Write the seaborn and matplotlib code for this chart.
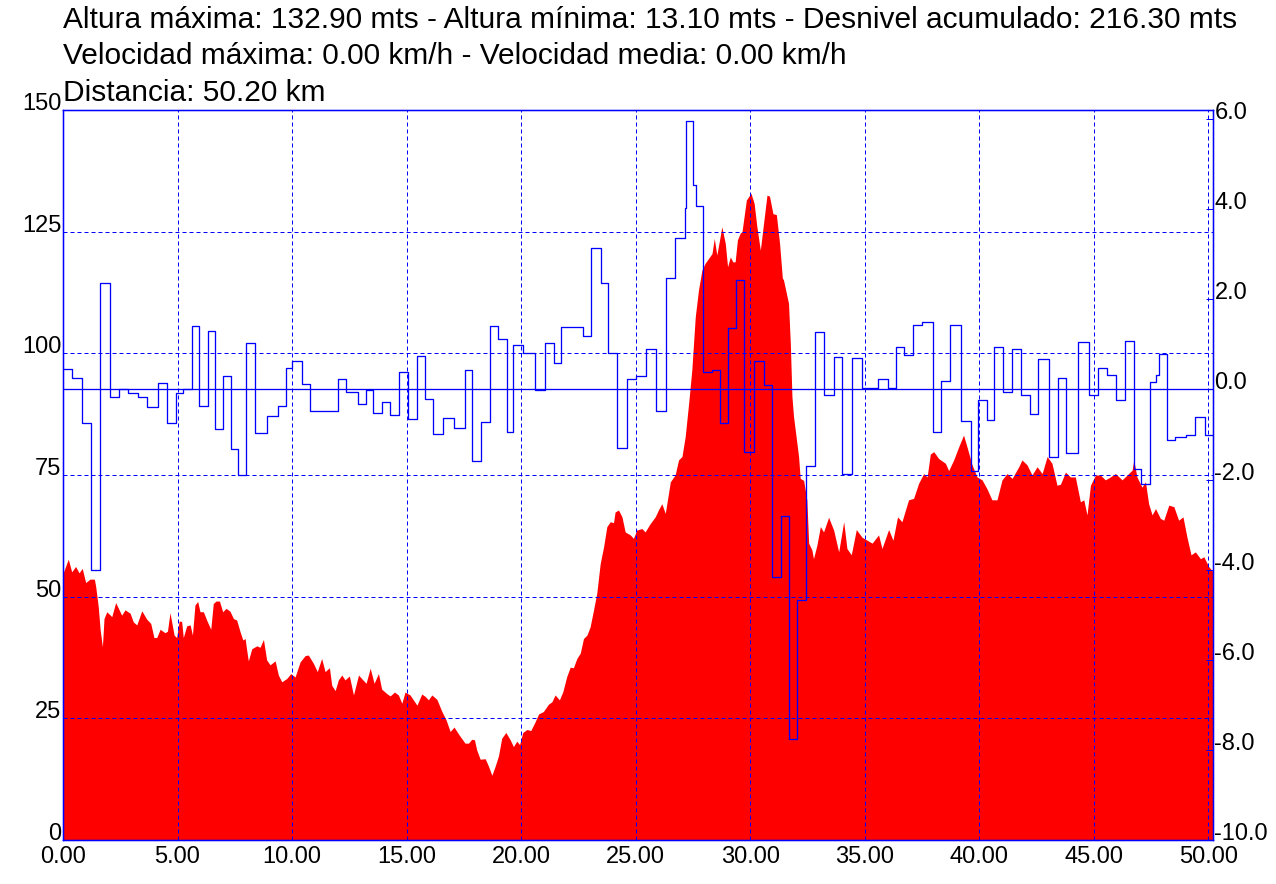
import numpy as np
import pandas as pd
import matplotlib
matplotlib.use("Agg")
import matplotlib.pyplot as plt
import seaborn as sns

# --- elevation profile (km, metres) ---
dist_km = [
    0.00, 0.23, 0.38, 0.55, 0.70, 0.84, 0.99, 1.18, 1.37, 1.43, 1.54, 1.62, 1.72, 1.79, 1.91,
    2.13, 2.30, 2.45, 2.56, 2.71, 2.93, 3.07, 3.22, 3.44, 3.65, 3.83, 3.97, 4.09, 4.24, 4.45,
    4.56, 4.67, 4.85, 4.96, 5.07, 5.18, 5.25, 5.40, 5.55, 5.65, 5.76, 5.88, 5.98, 6.13, 6.27,
    6.45, 6.56, 6.68, 6.83, 6.97, 7.12, 7.29, 7.44, 7.58, 7.73, 7.85, 7.95, 8.02, 8.09, 8.24,
    8.46, 8.60, 8.75, 8.89, 9.04, 9.26, 9.40, 9.55, 9.77, 9.94, 10.13, 10.35, 10.57, 10.71, 10.93,
    11.10, 11.29, 11.44, 11.63, 11.73, 11.88, 12.02, 12.17, 12.31, 12.50, 12.68, 12.90, 13.09, 13.23, 13.41,
    13.58, 13.77, 13.91, 14.13, 14.28, 14.47, 14.64, 14.79, 14.93, 15.15, 15.45, 15.66, 15.81, 15.95, 16.10,
    16.32, 16.54, 16.72, 16.90, 17.07, 17.29, 17.55, 17.70, 17.84, 17.96, 18.06, 18.21, 18.43, 18.57, 18.72,
    18.86, 19.01, 19.15, 19.33, 19.52, 19.66, 19.81, 19.93, 20.07, 20.25, 20.42, 20.61, 20.76, 20.97, 21.19,
    21.34, 21.48, 21.67, 21.82, 21.99, 22.14, 22.28, 22.43, 22.58, 22.72, 22.87, 23.01, 23.16, 23.30, 23.45,
    23.60, 23.74, 23.89, 24.03, 24.10, 24.25, 24.40, 24.54, 24.76, 24.90, 25.05, 25.27, 25.41, 25.63, 25.85,
    26.00, 26.14, 26.29, 26.43, 26.51, 26.72, 26.87, 27.02, 27.16, 27.31, 27.45, 27.60, 27.74, 27.89, 28.03,
    28.18, 28.33, 28.43, 28.54, 28.66, 28.76, 28.91, 29.01, 29.13, 29.24, 29.34, 29.44, 29.56, 29.64, 29.83,
    30.03, 30.17, 30.29, 30.44, 30.58, 30.73, 30.84, 30.99, 31.14, 31.28, 31.40, 31.45, 31.67, 31.75, 31.82,
    31.89, 32.11, 32.18, 32.33, 32.47, 32.55, 32.69, 32.76, 32.91, 33.06, 33.20, 33.42, 33.64, 33.86, 34.08,
    34.22, 34.41, 34.63, 34.88, 35.10, 35.32, 35.60, 35.75, 36.04, 36.23, 36.43, 36.62, 36.91, 37.13, 37.35,
    37.57, 37.72, 37.86, 38.01, 38.22, 38.52, 38.66, 38.88, 39.10, 39.31, 39.46, 39.68, 39.90, 40.12, 40.33,
    40.55, 40.77, 40.99, 41.21, 41.43, 41.72, 41.86, 42.08, 42.30, 42.52, 42.74, 42.96, 43.17, 43.39, 43.54,
    43.76, 43.97, 44.19, 44.41, 44.56, 44.70, 44.85, 45.07, 45.28, 45.50, 45.72, 45.94, 46.23, 46.45, 46.67,
    46.74, 46.88, 47.10, 47.25, 47.39, 47.54, 47.69, 47.90, 48.05, 48.27, 48.49, 48.70, 48.89, 49.06, 49.24,
    49.43, 49.65, 49.80, 50.01, 50.20,
]
altura = [
    54.8, 57.7, 55.1, 56.2, 54.9, 55.8, 52.9, 53.6, 53.6, 52.0, 47.9, 43.3, 39.7, 45.5, 46.9,
    45.9, 48.8, 47.3, 46.2, 47.3, 46.6, 44.8, 44.2, 47.1, 45.4, 44.5, 41.6, 41.6, 43.3, 42.6,
    42.9, 46.7, 42.1, 41.6, 45.0, 44.9, 41.6, 44.0, 44.2, 42.1, 48.3, 49.0, 46.9, 46.9, 45.2,
    43.3, 48.6, 49.1, 49.1, 46.9, 47.6, 47.0, 45.5, 45.2, 42.8, 41.1, 41.4, 39.0, 36.8, 39.3,
    39.9, 39.6, 41.2, 37.0, 36.0, 36.8, 33.9, 32.5, 33.2, 34.2, 33.5, 36.6, 37.9, 38.0, 36.3,
    34.6, 37.3, 34.6, 35.4, 31.8, 30.7, 32.9, 33.9, 32.9, 33.7, 29.8, 33.9, 32.9, 32.2, 35.3,
    32.2, 34.2, 31.0, 30.1, 29.6, 30.4, 29.8, 28.1, 30.4, 29.8, 27.7, 30.0, 29.5, 28.8, 29.8,
    28.9, 26.4, 24.7, 22.3, 23.2, 21.6, 19.9, 19.9, 20.7, 20.6, 18.5, 16.6, 16.7, 15.2, 13.3,
    15.1, 17.3, 20.9, 22.1, 20.6, 19.2, 20.3, 19.6, 22.1, 22.7, 22.5, 24.3, 25.9, 26.4, 27.9,
    28.4, 29.8, 28.8, 30.5, 33.6, 35.5, 35.4, 37.3, 38.4, 41.4, 42.1, 43.8, 47.3, 50.7, 56.8,
    60.3, 64.4, 65.4, 65.2, 67.4, 67.8, 66.4, 63.3, 62.7, 62.0, 63.7, 64.0, 63.3, 65.0, 66.4,
    67.9, 69.1, 67.1, 71.2, 73.6, 75.0, 78.1, 78.8, 82.9, 89.7, 96.6, 107.5, 113.0, 117.1, 118.5,
    119.5, 120.5, 123.6, 120.2, 123.3, 126.0, 122.6, 117.8, 119.8, 118.8, 118.8, 123.3, 124.7, 125.0, 131.5,
    132.9, 130.8, 126.0, 121.2, 126.7, 132.5, 132.3, 128.7, 128.5, 122.6, 115.5, 115.1, 110.3, 102.0, 91.1,
    87.0, 78.8, 74.3, 73.9, 69.9, 61.0, 59.6, 57.8, 60.6, 64.4, 63.3, 66.3, 63.7, 59.2, 65.4,
    59.9, 58.6, 63.8, 62.2, 61.6, 61.0, 62.7, 59.9, 63.8, 61.6, 66.4, 65.4, 69.9, 70.2, 73.3,
    75.3, 74.6, 79.3, 79.8, 78.4, 77.4, 75.9, 78.1, 80.8, 83.2, 80.8, 77.1, 74.6, 74.0, 72.2,
    69.9, 69.9, 74.0, 75.3, 74.3, 76.7, 78.1, 77.1, 75.0, 76.7, 75.3, 78.8, 77.4, 72.9, 73.1,
    75.6, 74.6, 74.6, 69.5, 69.9, 66.8, 72.9, 75.0, 75.0, 74.0, 74.6, 75.3, 74.0, 75.0, 76.0,
    78.1, 74.6, 72.5, 73.6, 69.1, 66.8, 68.1, 66.1, 65.7, 68.8, 68.5, 65.7, 66.4, 62.3, 58.6,
    59.2, 57.8, 58.2, 56.2, 55.1,
]

# --- slope (%) as steps: start km of each step and its value ---
pend_km = [
    0.00, 0.41, 0.82, 1.21, 1.62, 2.05, 2.46, 2.83, 3.26, 3.68, 4.14, 4.55, 4.92, 5.24, 5.62,
    5.95, 6.34, 6.64, 7.00, 7.32, 7.66, 7.99, 8.40, 8.90, 9.40, 9.72, 10.00, 10.42, 10.79, 12.02,
    12.36, 12.88, 13.23, 13.55, 13.94, 14.28, 14.67, 15.08, 15.47, 15.81, 16.17, 16.58, 17.07, 17.55, 17.87,
    18.24, 18.65, 19.01, 19.38, 19.66, 20.06, 20.61, 21.02, 21.45, 21.75, 22.71, 23.04, 23.48, 23.81, 24.18,
    24.64, 25.02, 25.45, 25.88, 26.32, 26.72, 27.13, 27.21, 27.52, 27.62, 27.93, 28.33, 28.66, 29.05, 29.38,
    29.74, 30.17, 30.61, 30.97, 31.34, 31.67, 32.04, 32.43, 32.81, 33.20, 33.64, 34.00, 34.44, 34.88, 35.56,
    36.00, 36.36, 36.69, 37.10, 37.51, 37.96, 38.34, 38.73, 39.20, 39.64, 39.96, 40.34, 40.66, 41.03, 41.43,
    41.83, 42.20, 42.55, 43.03, 43.42, 43.79, 44.29, 44.77, 45.17, 45.58, 45.97, 46.35, 46.74, 47.06, 47.44,
    47.69, 47.86, 48.20, 48.56, 49.00, 49.43, 49.87,
]
pendiente = [
    0.46, 0.26, -0.74, -4.01, 2.37, -0.16, 0.01, -0.08, -0.17, -0.39, 0.15, -0.74, -0.07, 0.01, 1.41,
    -0.36, 1.30, -0.87, 0.30, -1.32, -1.90, 1.04, -0.96, -0.60, -0.36, 0.48, 0.64, 0.13, -0.47, 0.22,
    -0.06, -0.33, -0.02, -0.52, -0.28, -0.56, 0.39, -0.65, 0.74, -0.21, -1.00, -0.63, -0.85, 0.44, -1.60,
    -0.73, 1.41, 1.11, -0.94, 0.99, 0.81, -0.02, 1.04, 0.59, 1.38, 1.18, 3.13, 2.37, 0.81, -1.30,
    0.22, 0.30, 0.89, -0.47, 2.48, 3.35, 4.02, 5.96, 4.53, 4.07, 0.38, 0.42, -0.74, 1.37, 2.42,
    -1.39, 0.63, 0.10, -4.17, -2.80, -7.76, -4.67, -1.71, 1.27, -0.12, 0.72, -1.87, 0.70, 0.04, 0.24,
    0.02, 0.94, 0.76, 1.42, 1.50, -0.95, 0.18, 1.42, -0.71, -1.82, -0.24, -0.67, 0.94, -0.06, 0.90,
    -0.13, -0.54, 0.68, -1.50, 0.26, -1.41, 1.05, -0.13, 0.48, 0.33, -0.24, 1.07, -1.76, -2.11, 0.16,
    0.31, 0.79, -1.13, -1.06, -1.02, -0.61, -1.02,
]
dist_total = 50.20

titulo = [
    "Altura máxima: 132.90 mts - Altura mínima: 13.10 mts - Desnivel acumulado: 216.30 mts",
    "Velocidad máxima: 0.00 km/h - Velocidad media: 0.00 km/h",
    "Distancia: 50.20 km",
]
x_ticks = [0, 5, 10, 15, 20, 25, 30, 35, 40, 45, 50]
alt_ticks = [0, 25, 50, 75, 100, 125, 150]
pend_ticks = [-10, -8, -6, -4, -2, 0, 2, 4, 6]

# --- style ---
sns.set_style("white")
plt.rcParams['font.family'] = ['Liberation Sans', 'DejaVu Sans']
plt.rcParams['text.color'] = "black"
plt.rcParams['xtick.labelcolor'] = "black"
plt.rcParams['ytick.labelcolor'] = "black"
rojo = "#FF0000"
azul = "#0000FF"
px = 72 / 100  # one pixel in points at dpi 100

fig = plt.figure(figsize=(12.76, 8.84), dpi=100)
ax = fig.add_axes([63 / 1276, 44 / 884, 1150 / 1276, 730 / 884])

# elevation area
ax.fill_between(dist_km, altura, 0, color=rojo, linewidth=0, zorder=1)
ax.set_xlim(0, dist_total)
ax.set_ylim(0, 150)
ax.set_xticks(x_ticks)
ax.set_xticklabels([f"{v:.2f}" for v in x_ticks], fontsize=17, color="black")
ax.set_yticks(alt_ticks)
ax.set_yticklabels([str(v) for v in alt_ticks], fontsize=17, color="black")
for lab in ax.get_yticklabels():
    lab.set_va("baseline")
ax.tick_params(axis="both", length=0, pad=1)
ax.tick_params(axis="x", pad=4)
ax.set_axisbelow(False)
ax.grid(True, color=azul, linewidth=px, linestyle=(0, (4, 3)))

# slope step line on the right axis
ax2 = ax.twinx()
pend_df = pd.DataFrame({"km": pend_km + [dist_total], "pend": pendiente + [pendiente[-1]]})
sns.lineplot(data=pend_df, x="km", y="pend", ax=ax2, color=azul, linewidth=1.3 * px,
             drawstyle="steps-post", sort=False, estimator=None)
ax2.axhline(0, color=azul, linewidth=1.3 * px)
ax2.set_ylim(-10, 6.2)
ax2.set_yticks(pend_ticks)
ax2.set_yticklabels([f"{v:.1f}" for v in pend_ticks], fontsize=17, color="black")
for lab in ax2.get_yticklabels():
    lab.set_va("baseline")
ax2.tick_params(axis="y", direction="in", length=5, width=px, color=azul, pad=1)
ax2.set_xlabel("")
ax2.set_ylabel("")
ax.set_xlabel("")

for a in (ax, ax2):
    for s in a.spines.values():
        s.set_visible(True)
        s.set_color(azul)
        s.set_linewidth(1.3 * px)

# header lines
for i, linea in enumerate(titulo):
    fig.text(63 / 1276, 1 - (28 + 36.5 * i) / 884, linea, fontsize=21.5,
             ha="left", va="baseline", color="black")

fig.savefig("out.png", dpi=100)
